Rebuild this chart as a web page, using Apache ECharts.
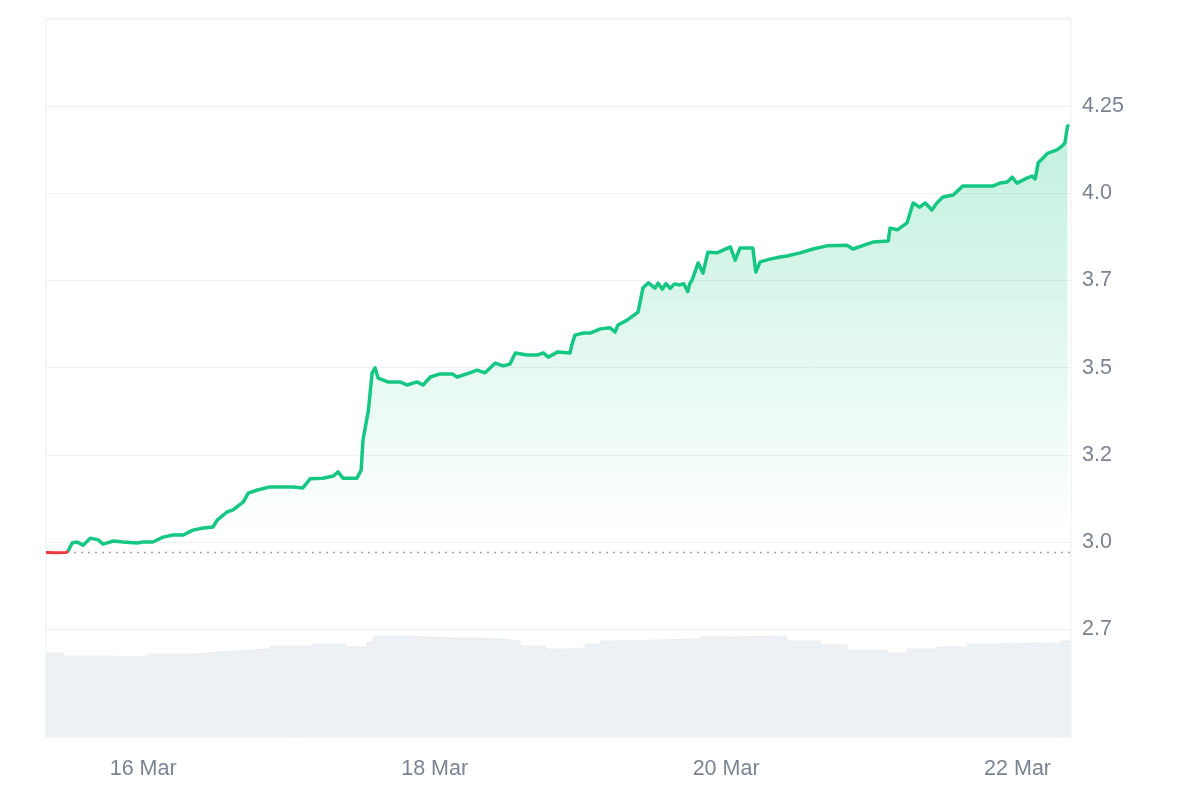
<!DOCTYPE html>
<html>
<head>
<meta charset="utf-8">
<script src="https://cdn.jsdelivr.net/npm/echarts@6/dist/echarts.min.js"></script>
<style>
html,body{margin:0;padding:0;background:#fff;}
#chart{width:1200px;height:800px;}
</style>
</head>
<body>
<div id="chart"></div>
<script>
// ---- data (hours counted from 15 Mar 00:00) ----
const priceHours = [8.0, 9.7, 11.3, 11.65, 12.3, 13.1, 14.1, 15.3, 16.6, 17.4, 19.1, 20.7, 23.0, 24.0, 25.6, 27.3, 28.9, 30.6, 32.2, 33.9, 35.5, 36.2, 37.8, 38.8, 40.5, 41.3, 42.8, 44.9, 46.6, 48.7, 50.3, 51.5, 53.6, 55.3, 56.1, 56.9, 59.2, 59.9, 60.2, 61.1, 61.7, 62.2, 62.7, 64.3, 66.3, 67.5, 69.1, 70.1, 71.3, 72.9, 74.9, 75.7, 77.8, 79.0, 80.3, 82.0, 83.3, 84.4, 85.3, 87.2, 88.9, 89.9, 90.7, 92.3, 94.3, 94.6, 95.1, 96.5, 97.6, 99.3, 100.9, 101.7, 102.2, 103.7, 105.5, 106.3, 107.2, 108.3, 108.8, 109.5, 110.1, 110.8, 111.5, 112.4, 113.0, 113.7, 114.0, 114.4, 115.4, 116.2, 117.0, 118.5, 120.7, 121.5, 122.3, 124.4, 124.9, 125.6, 127.2, 128.9, 130.0, 132.2, 134.3, 136.6, 139.9, 140.9, 143.2, 144.2, 146.7, 147.0, 148.2, 149.8, 150.8, 151.9, 152.8, 153.9, 154.7, 155.7, 157.4, 159.0, 161.3, 164.0, 165.1, 166.3, 167.1, 167.9, 169.6, 170.4, 170.9, 171.4, 172.2, 173.0, 174.5, 175.3, 175.8, 176.2, 176.3];
const priceValues = [2.970, 2.969, 2.970, 2.974, 2.997, 3.000, 2.991, 3.011, 3.006, 2.994, 3.003, 3.000, 2.997, 3.000, 3.000, 3.014, 3.020, 3.020, 3.034, 3.040, 3.043, 3.063, 3.086, 3.092, 3.115, 3.140, 3.149, 3.158, 3.158, 3.158, 3.155, 3.181, 3.183, 3.189, 3.201, 3.183, 3.183, 3.206, 3.292, 3.378, 3.485, 3.499, 3.470, 3.459, 3.459, 3.450, 3.459, 3.450, 3.473, 3.482, 3.482, 3.473, 3.485, 3.493, 3.485, 3.513, 3.505, 3.510, 3.542, 3.536, 3.536, 3.542, 3.530, 3.545, 3.542, 3.565, 3.593, 3.599, 3.599, 3.611, 3.614, 3.602, 3.622, 3.636, 3.659, 3.728, 3.743, 3.728, 3.742, 3.725, 3.741, 3.727, 3.740, 3.737, 3.741, 3.718, 3.740, 3.751, 3.800, 3.771, 3.831, 3.829, 3.846, 3.808, 3.843, 3.843, 3.774, 3.803, 3.811, 3.817, 3.820, 3.829, 3.840, 3.849, 3.851, 3.840, 3.854, 3.860, 3.863, 3.900, 3.895, 3.915, 3.972, 3.960, 3.972, 3.952, 3.972, 3.989, 3.995, 4.021, 4.021, 4.021, 4.029, 4.032, 4.046, 4.029, 4.044, 4.049, 4.041, 4.087, 4.101, 4.115, 4.124, 4.135, 4.144, 4.190, 4.193];
const baselinePrice = 2.972;

const volumeHours = [8.0, 10.8, 18.6, 21.4, 24.7, 32.9, 36.2, 39.5, 44.9, 52.0, 57.3, 60.9, 61.9, 67.5, 74.6, 79.5, 82.8, 86.1, 90.2, 93.5, 96.8, 99.3, 102.1, 115.7, 120.7, 130.0, 135.5, 139.9, 146.5, 149.8, 154.7, 159.7, 165.6, 170.6, 175.0, 176.8];
const volumeValues = [61.3, 59.1, 58.4, 59.1, 60.6, 62.0, 62.8, 64.2, 66.4, 67.9, 65.7, 69.3, 73.7, 72.3, 72.3, 71.5, 70.1, 66.4, 64.2, 65.0, 67.9, 70.1, 71.5, 73.0, 73.7, 70.1, 67.2, 63.5, 61.3, 64.2, 65.7, 67.9, 68.6, 67.9, 70.1, 70.1];

const xTickHours = [24, 72, 120, 168];
const xTickLabels = ['16 Mar', '18 Mar', '20 Mar', '22 Mar'];
const yTickValues = [2.75, 3.0, 3.25, 3.5, 3.75, 4.0, 4.25];
const yTickLabels = ['2.7', '3.0', '3.2', '3.5', '3.7', '4.0', '4.25'];

// ---- build ----
const priceData = priceHours.map((h, i) => [h, priceValues[i]]);
const volumeData = volumeHours.map((h, i) => [h, volumeValues[i]]);
// split where price first rises to the opening baseline (red below, green above)
const firstUp = priceValues.findIndex(v => v >= baselinePrice);
const redData = priceData.slice(0, firstUp + 1);
const greenData = priceData.slice(firstUp);
const xMin = 8.0, xMax = 176.8;

const labelColor = '#7b8392';
const fontFamily = "'Liberation Sans', Arial, sans-serif";
const gridLine = '#eef0f3';

const chart = echarts.init(document.getElementById('chart'), null, {renderer: 'canvas'});
chart.setOption({
  animation: false,
  backgroundColor: '#ffffff',
  grid: [
    {left: 46, right: 129, top: 18.8, height: 697.6, show: false},
    {left: 46, right: 129, top: 18, bottom: 63, show: true, borderColor: '#eceff2', borderWidth: 1, backgroundColor: 'transparent'}
  ],
  xAxis: [
    {type: 'value', gridIndex: 0, min: xMin, max: xMax, show: false},
    {type: 'value', gridIndex: 1, min: xMin, max: xMax,
     axisLine: {show: false}, axisTick: {show: false}, splitLine: {show: false},
     axisLabel: {
       customValues: xTickHours, margin: 21, color: labelColor, fontSize: 21.5, fontFamily: fontFamily,
       formatter: v => { const i = xTickHours.findIndex(t => Math.abs(t - v) < 1e-6); return i >= 0 ? xTickLabels[i] : ''; }
     }}
  ],
  yAxis: [
    {type: 'value', gridIndex: 0, position: 'right', min: 2.5, max: 4.5, interval: 0.25,
     axisLine: {show: false}, axisTick: {show: false},
     splitLine: {show: true, lineStyle: {color: gridLine, width: 1}},
     axisLabel: {
       margin: 11, color: labelColor, fontSize: 21.5, fontFamily: fontFamily,
       formatter: v => { const i = yTickValues.findIndex(t => Math.abs(t - v) < 1e-6); return i >= 0 ? yTickLabels[i] : ''; }
     }},
    {type: 'value', gridIndex: 1, min: 0, max: 525, show: false, splitLine: {show: false}}
  ],
  series: [
    {type: 'line', name: 'Volume', xAxisIndex: 1, yAxisIndex: 1, data: volumeData, step: 'end',
     showSymbol: false, symbol: 'none', lineStyle: {width: 1, color: '#e9edf1'},
     itemStyle: {color: '#e9edf1'},
     areaStyle: {color: '#eef1f4', opacity: 1}, z: 3, silent: true},
    {type: 'line', name: 'Price', xAxisIndex: 0, yAxisIndex: 0, data: greenData,
     showSymbol: false, symbol: 'none', lineStyle: {width: 3.5, color: '#16c784', join: 'round', cap: 'round'}, itemStyle: {color: '#16c784'}, z: 4,
     areaStyle: {
       origin: 'start',
       color: new echarts.graphic.LinearGradient(0, 0, 0, 1, [
         {offset: 0, color: 'rgba(22,199,132,0.38)'},
         {offset: 0.7, color: 'rgba(22,199,132,0.0)'},
         {offset: 1, color: 'rgba(22,199,132,0.0)'}
       ])
     },
     markLine: {
       silent: true, symbol: ['none', 'none'], label: {show: false},
       lineStyle: {color: '#9aa1ab', type: [2, 5], width: 1.3},
       data: [{yAxis: baselinePrice}]
     }},
    {type: 'line', name: 'PriceDown', xAxisIndex: 0, yAxisIndex: 0, data: redData,
     showSymbol: false, symbol: 'none', lineStyle: {width: 3, color: '#ea3943'}, itemStyle: {color: '#ea3943'}, z: 5}
  ]
});
</script>
</body>
</html>
